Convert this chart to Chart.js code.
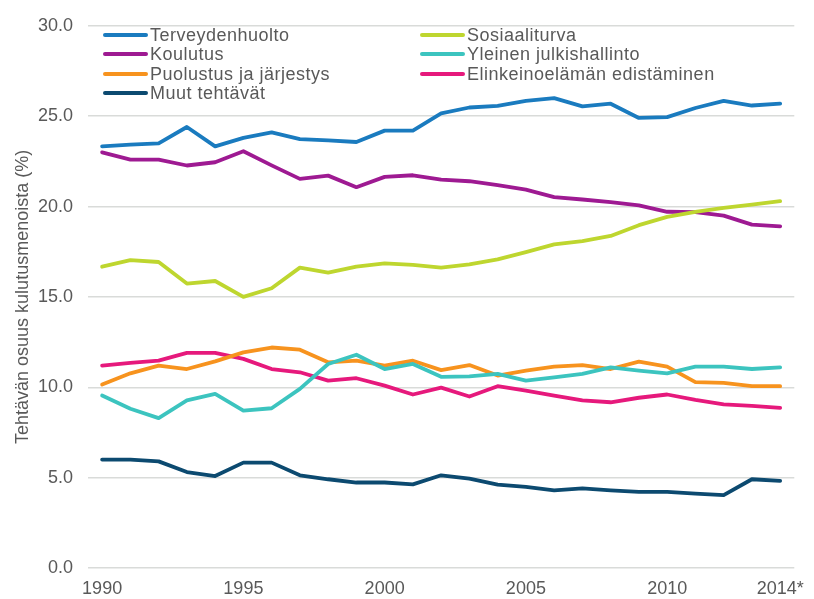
<!DOCTYPE html>
<html>
<head>
<meta charset="utf-8">
<script src="https://cdn.jsdelivr.net/npm/chart.js@4.4.1/dist/chart.umd.min.js"></script>
<style>
  html, body { margin: 0; padding: 0; background: #ffffff; }
  #wrap { position: relative; width: 814px; height: 599px; }
  #legend { position: absolute; left: 0; top: 0; width: 814px; height: 110px; pointer-events: none;
            font-family: "Liberation Sans", Arial, sans-serif; font-size: 18px; color: #595959; letter-spacing: 0.5px; }
  .item { position: absolute; height: 20px; line-height: 20px; white-space: nowrap; }
  .sw { position: absolute; left: 0; top: 8px; width: 45px; height: 4px; border-radius: 2px; }
  .lab { position: absolute; left: 47px; top: 0; }
</style>
</head>
<body>
<div id="wrap">
  <canvas id="c" width="814" height="599"></canvas>
  <div id="legend"></div>
</div>
<script>
const years = ['1990','1991','1992','1993','1994','1995','1996','1997','1998','1999','2000','2001','2002','2003','2004','2005','2006','2007','2008','2009','2010','2011','2012','2013','2014*'];
const shownYears = ['1990','1995','2000','2005','2010','2014*'];
const yTicks = [0, 5, 10, 15, 20, 25, 30];

const seriesNames = ['Terveydenhuolto','Sosiaaliturva','Koulutus','Yleinen julkishallinto','Puolustus ja järjestys','Elinkeinoelämän edistäminen','Muut tehtävät'];

const terveydenhuolto = [23.33,23.42,23.5,24.4,23.33,23.8,24.1,23.73,23.66,23.57,24.2,24.2,25.15,25.48,25.57,25.85,26.0,25.54,25.69,24.9,24.95,25.45,25.85,25.59,25.69];
const sosiaaliturva   = [16.67,17.04,16.93,15.74,15.88,15.0,15.48,16.62,16.34,16.67,16.86,16.77,16.62,16.8,17.08,17.48,17.91,18.09,18.37,18.97,19.43,19.71,19.93,20.11,20.3];
const koulutus        = [23.0,22.6,22.6,22.27,22.45,23.06,22.28,21.53,21.71,21.07,21.64,21.73,21.49,21.4,21.18,20.94,20.52,20.39,20.24,20.06,19.71,19.69,19.5,19.0,18.9];
const yleinen         = [9.54,8.81,8.29,9.27,9.63,8.71,8.84,9.91,11.29,11.8,11.01,11.29,10.58,10.6,10.74,10.37,10.55,10.74,11.1,10.92,10.77,11.14,11.14,11.01,11.1];
const puolustus       = [10.15,10.77,11.2,11.01,11.43,11.93,12.2,12.08,11.38,11.47,11.2,11.47,10.95,11.23,10.65,10.92,11.14,11.23,11.01,11.42,11.14,10.28,10.24,10.06,10.06];
const elinkeino       = [11.2,11.35,11.47,11.9,11.9,11.57,11.01,10.83,10.37,10.5,10.09,9.6,9.98,9.49,10.06,9.82,9.54,9.27,9.17,9.42,9.6,9.3,9.05,8.97,8.86];
const muut            = [6.0,6.0,5.9,5.31,5.09,5.83,5.83,5.13,4.91,4.73,4.73,4.63,5.13,4.95,4.61,4.49,4.3,4.4,4.3,4.21,4.21,4.12,4.03,4.91,4.82];

const seriesValues = [terveydenhuolto, sosiaaliturva, koulutus, yleinen, puolustus, elinkeino, muut];
const seriesColors = ['#1a7bbf','#bed62f','#9e1a92','#3cc4bf','#f7931e','#e6197c','#0c4a70'];

const textColor = '#595959';
const fontFamily = '"Liberation Sans", Arial, sans-serif';

const datasets = seriesNames.map((n, i) => ({
  label: n,
  data: seriesValues[i],
  borderColor: seriesColors[i],
  backgroundColor: seriesColors[i],
  borderWidth: 3.8,
  pointRadius: 0,
  tension: 0,
  fill: false,
  borderCapStyle: 'round',
  borderJoinStyle: 'round'
}));

new Chart(document.getElementById('c'), {
  type: 'line',
  data: { labels: years, datasets: datasets },
  options: {
    responsive: false,
    animation: false,
    layout: { padding: { top: 24, right: 16, left: 0, bottom: 0 } },
    plugins: { legend: { display: false }, tooltip: { enabled: false } },
    scales: {
      x: {
        type: 'category',
        offset: true,
        grid: { display: false, drawTicks: false },
        border: { display: false },
        ticks: {
          autoSkip: false, maxRotation: 0, minRotation: 0, padding: 10,
          color: textColor, font: { family: fontFamily, size: 18 },
          callback: function(v, i) { const l = years[i]; return shownYears.includes(l) ? l : ''; }
        },
        afterFit: function(s) { s.height = 31; }
      },
      y: {
        min: yTicks[0], max: yTicks[yTicks.length - 1],
        grid: { color: '#d9dbd9', lineWidth: 1.5, drawTicks: false },
        border: { display: false },
        afterBuildTicks: function(s) { s.ticks = yTicks.map(v => ({ value: v })); },
        ticks: {
          padding: 15, color: textColor, font: { family: fontFamily, size: 18 },
          callback: function(v) { return Number(v).toFixed(1); }
        },
        title: {
          display: true, text: 'Tehtävän osuus kulutusmenoista (%)',
          color: textColor, font: { family: fontFamily, size: 18 },
          padding: { top: 12, bottom: 0 }
        },
        afterFit: function(s) { s.width = 88; }
      }
    }
  }
});

// HTML legend in two columns, row-major order
const legend = document.getElementById('legend');
const colX = [103, 420];
const rowY = [25, 44, 64, 83];
seriesNames.forEach((n, i) => {
  const col = i % 2, row = Math.floor(i / 2);
  const item = document.createElement('div');
  item.className = 'item';
  item.style.left = colX[col] + 'px';
  item.style.top = rowY[row] + 'px';
  const sw = document.createElement('span');
  sw.className = 'sw';
  sw.style.background = seriesColors[i];
  const lab = document.createElement('span');
  lab.className = 'lab';
  lab.textContent = n;
  item.appendChild(sw);
  item.appendChild(lab);
  legend.appendChild(item);
});
</script>
</body>
</html>
